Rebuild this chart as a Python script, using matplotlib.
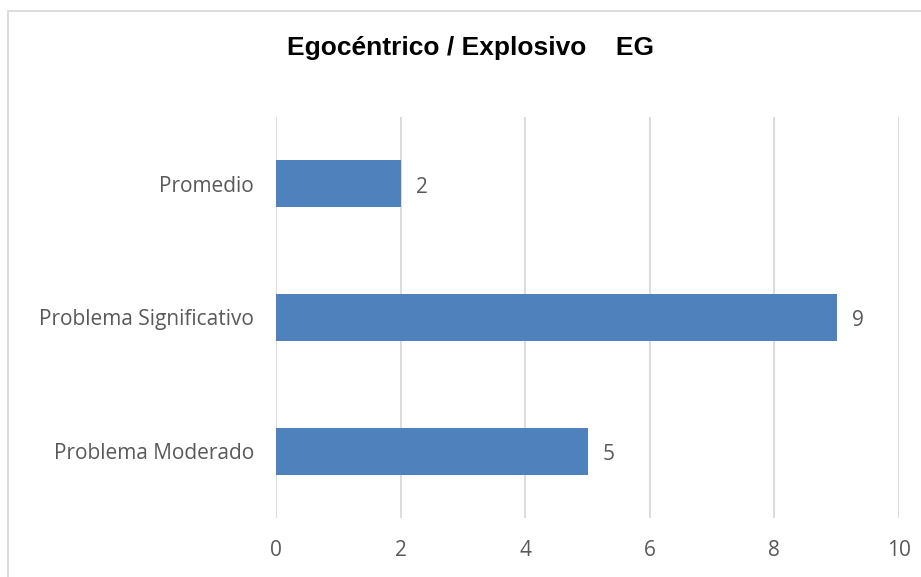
import matplotlib.pyplot as plt
from matplotlib.patches import Rectangle

# data
categories = ["Problema Moderado", "Problema Significativo", "Promedio"]
values = [5, 9, 2]
xticks = [0, 2, 4, 6, 8, 10]
title = "Egocéntrico / Explosivo    EG"

bar_color = "#4F81BD"
text_color = "#595959"
grid_color = "#D9D9D9"

fig = plt.figure(figsize=(9.21, 5.77), dpi=100)
ax = fig.add_axes([276 / 921, 1 - 518 / 577, (899 - 276) / 921, (518 - 117) / 577])

ypos = list(range(len(categories)))
ax.barh(ypos, values, height=0.35, color=bar_color, zorder=3)

# value labels
for y, v in zip(ypos, values):
    ax.annotate(str(v), (v, y), xytext=(11, -2.5), textcoords="offset points",
                ha="left", va="center", fontsize=15, color=text_color,
                family="Open Sans")

ax.set_xlim(0, 10)
ax.set_ylim(-0.5, 2.5)
ax.set_xticks(xticks)
ax.set_xticklabels([str(t) for t in xticks])
ax.set_yticks(ypos)
ax.set_yticklabels(categories)

for lbl in ax.get_xticklabels() + ax.get_yticklabels():
    lbl.set_family("Open Sans")
    lbl.set_fontsize(15)
    lbl.set_color(text_color)

ax.tick_params(axis="x", length=0, pad=16)
ax.tick_params(axis="y", length=0, pad=16)
ax.grid(axis="x", color=grid_color, linewidth=1.3, zorder=0)
for s in ax.spines.values():
    s.set_visible(False)

fig.text(470 / 921, 1 - 48 / 577, title, ha="center", va="center",
         fontsize=19, fontweight="bold", family="Liberation Sans", color="black")

# outer chart border (runs off the right and bottom edges)
fig.patches.append(Rectangle((8 / 921, -0.05), 1.0, 1 - 11 / 577 + 0.05,
                             transform=fig.transFigure, fill=False,
                             edgecolor=grid_color, linewidth=1.3))

fig.savefig("out.png", dpi=100)
